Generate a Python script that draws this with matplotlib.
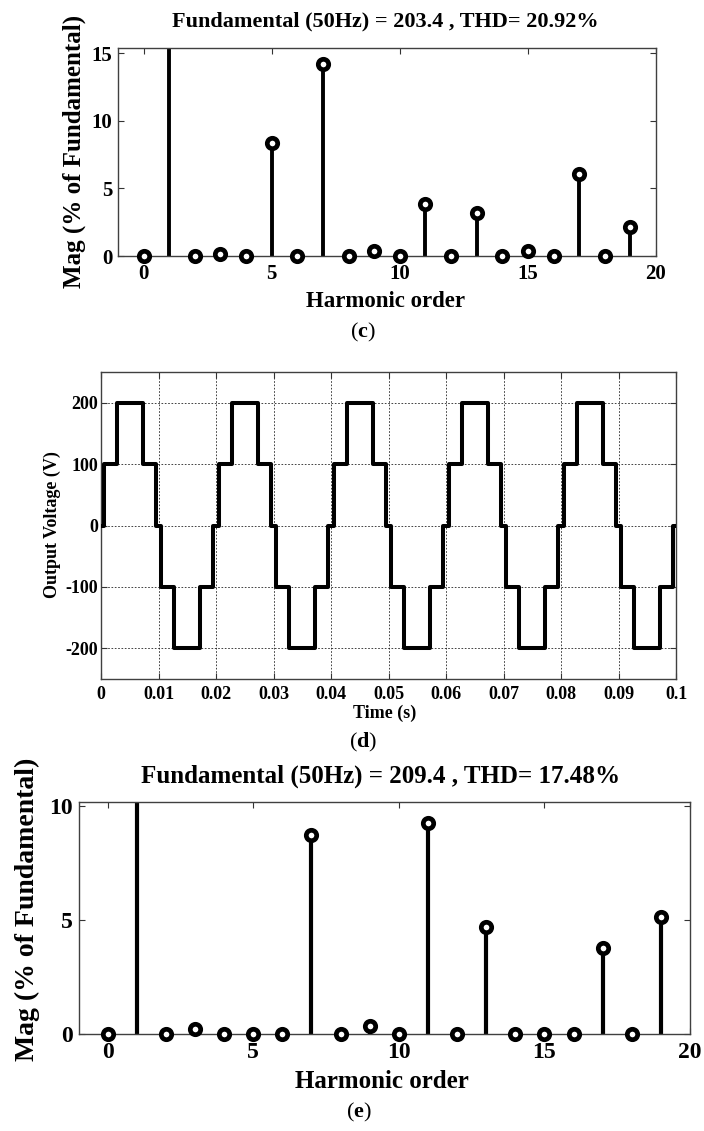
import numpy as np
import matplotlib
matplotlib.use('Agg')
import matplotlib.pyplot as plt

plt.rcParams['font.family'] = ['Liberation Serif', 'DejaVu Serif']
plt.rcParams['font.weight'] = 'bold'
plt.rcParams['axes.unicode_minus'] = False
plt.rcParams['mathtext.fontset'] = 'custom'
plt.rcParams['mathtext.rm'] = 'Liberation Serif'
plt.rcParams['mathtext.bf'] = 'Liberation Serif:bold'

# Harmonic spectra, % of fundamental (order 1 is the fundamental itself)
order = [0, 1, 2, 3, 4, 5, 6, 7, 8, 9, 10, 11, 12, 13, 14, 15, 16, 17, 18, 19]
mag_c = [0, 100, 0, 0.15, 0, 8.4, 0, 14.2, 0, 0.35, 0, 3.85, 0, 3.15, 0, 0.35, 0, 6.05, 0, 2.15]
mag_e = [0, 100, 0, 0.22, 0, 0, 0, 8.72, 0, 0.33, 0, 9.23, 0, 4.7, 0, 0, 0, 3.75, 0, 5.12]
title_c = "Fundamental (50Hz) = 203.4 , THD= 20.92%"
title_e = "Fundamental (50Hz) = 209.4 , THD= 17.48%"

# Output voltage staircase: switching instants within one 20 ms cycle and the level after each
cycle_start = [0.0, 0.02, 0.04, 0.06, 0.08]
switch_t = [0.0005, 0.0027, 0.0073, 0.0095, 0.0105, 0.0127, 0.0173, 0.0195]
switch_v = [100, 200, 100, 0, -100, -200, -100, 0]

W, H = 704, 1131
fig = plt.figure(figsize=(W / 100, H / 100), dpi=100)

def box(l, t, r, b):
    return [l / W, 1 - b / H, (r - l) / W, (b - t) / H]

def style(ax, size, xpad, ypad):
    ax.tick_params(direction='in', top=True, right=True, length=4, width=0.8,
                   labelsize=size, color='#333333')
    ax.tick_params(axis='x', pad=xpad)
    ax.tick_params(axis='y', pad=ypad)
    for s in ax.spines.values():
        s.set_linewidth(1.0)
        s.set_color('#404040')
    for lab in ax.get_xticklabels() + ax.get_yticklabels():
        lab.set_fontweight('bold')

def stems(ax, x, y, lw):
    ax.vlines(x, 0, y, colors='black', linewidth=lw)
    ax.plot(x, y, 'o', ms=7.5, mfc='white', mec='black', mew=3.4, clip_on=False, zorder=3)

# ---- (c) ----
ax1 = fig.add_axes(box(118, 48, 656, 256))
stems(ax1, order, mag_c, 2.8)
ax1.set_xlim(-1, 20)
ax1.set_ylim(0, 15.4)
ax1.set_xticks([0, 5, 10, 15, 20])
ax1.set_yticks([0, 5, 10, 15])
style(ax1, 15, 6, 4)
fig.text(385 / W, 1 - 21 / H, title_c, ha='center', va='center', fontsize=16, fontweight='bold')
fig.text(74 / W, 1 - 151 / H, "Mag (% of Fundamental)", rotation=90, ha='center', va='center',
         fontsize=18, fontweight='bold')
fig.text(385 / W, 1 - 302 / H, "Harmonic order", ha='center', va='center', fontsize=16.5, fontweight='bold')
fig.text(363 / W, 1 - 332 / H, r"($\mathbf{c}$)", ha='center', va='center', fontsize=16, fontweight='normal')

# ---- (d) ----
ax2 = fig.add_axes(box(101, 372, 676, 679))
t = [0.0]
v = [0]
for c0 in cycle_start:
    for st, sv in zip(switch_t, switch_v):
        t.append(c0 + st)
        v.append(sv)
t.append(0.1)
v.append(v[-1])
ax2.plot(t, v, color='black', linewidth=2.9, drawstyle='steps-post', zorder=3)
ax2.set_xlim(0, 0.1)
ax2.set_ylim(-250, 250)
ax2.set_xticks([0, 0.01, 0.02, 0.03, 0.04, 0.05, 0.06, 0.07, 0.08, 0.09, 0.1])
ax2.set_xticklabels(['0', '0.01', '0.02', '0.03', '0.04', '0.05', '0.06', '0.07', '0.08', '0.09', '0.1'])
ax2.set_yticks([-200, -100, 0, 100, 200])
ax2.grid(True, color='#222222', linestyle=(0, (2, 2)), linewidth=0.6)
style(ax2, 13, 5, 2)
fig.text(52 / W, 1 - 525 / H, "Output Voltage (V)", rotation=90, ha='center', va='center',
         fontsize=13, fontweight='bold')
fig.text(385 / W, 1 - 713 / H, "Time (s)", ha='center', va='center', fontsize=13, fontweight='bold')
fig.text(363 / W, 1 - 742 / H, r"($\mathbf{d}$)", ha='center', va='center', fontsize=16, fontweight='normal')

# ---- (e) ----
ax3 = fig.add_axes(box(78.5, 802, 690, 1034))
stems(ax3, order, mag_e, 3.0)
ax3.set_xlim(-1, 20)
ax3.set_ylim(0, 10.17)
ax3.set_xticks([0, 5, 10, 15, 20])
ax3.set_yticks([0, 5, 10])
style(ax3, 17, 6, 4)
fig.text(381 / W, 1 - 776 / H, title_e, ha='center', va='center', fontsize=18, fontweight='bold')
fig.text(27 / W, 1 - 909 / H, "Mag (% of Fundamental)", rotation=90, ha='center', va='center',
         fontsize=20, fontweight='bold')
fig.text(382 / W, 1 - 1082 / H, "Harmonic order", ha='center', va='center', fontsize=18, fontweight='bold')
fig.text(359 / W, 1 - 1112 / H, r"($\mathbf{e}$)", ha='center', va='center', fontsize=16, fontweight='normal')

fig.savefig('out.png', dpi=100)
